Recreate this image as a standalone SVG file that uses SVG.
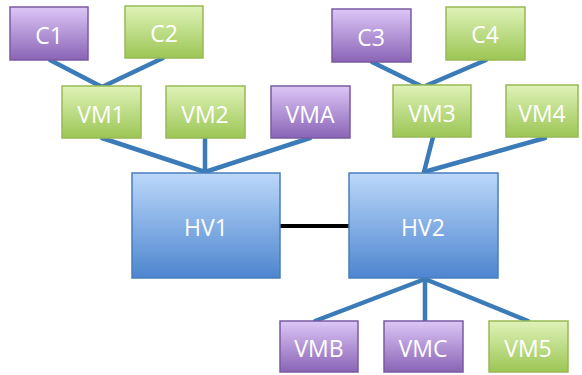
<svg xmlns="http://www.w3.org/2000/svg" width="582" height="375" viewBox="0 0 582 375">
<style>
.g{fill:url(#gg);stroke:#98b954;stroke-width:1.5}
.p{fill:url(#gp);stroke:#7a5ba3;stroke-width:1.5}
.b{fill:url(#gb);stroke:#4a7ebb;stroke-width:1.5}
text{font-family:"Open Sans","Noto Sans","Liberation Sans",sans-serif;fill:#ffffff;text-anchor:middle;dominant-baseline:central}
.s{font-size:23px}
.l{font-size:23px}
.c{stroke:#3b7bb8;stroke-width:4.5;fill:none;stroke-linecap:round}
</style>
<defs>
<linearGradient id="gg" x1="0" y1="0" x2="0" y2="1"><stop offset="0" stop-color="#dff2b8"/><stop offset="1" stop-color="#9cc655"/></linearGradient>
<linearGradient id="gp" x1="0" y1="0" x2="0" y2="1"><stop offset="0" stop-color="#dcc6f6"/><stop offset="1" stop-color="#8a64b6"/></linearGradient>
<linearGradient id="gb" x1="0" y1="0" x2="0" y2="1"><stop offset="0" stop-color="#bcd8fa"/><stop offset="1" stop-color="#4d85cf"/></linearGradient>
</defs>
<g id="connectors">
<line class="c" x1="50" y1="60" x2="102" y2="87"/>
<line class="c" x1="163" y1="58" x2="102" y2="87"/>
<line class="c" x1="372" y1="62" x2="423" y2="87"/>
<line class="c" x1="486" y1="60" x2="423" y2="87"/>
<line class="c" x1="102" y1="138" x2="205" y2="172"/>
<line class="c" x1="205" y1="138" x2="205" y2="172"/>
<line class="c" x1="310" y1="138" x2="205" y2="172"/>
<line class="c" x1="433" y1="137" x2="424" y2="172"/>
<line class="c" x1="545" y1="138" x2="424" y2="172"/>
<line class="c" x1="425" y1="279" x2="315" y2="321"/>
<line class="c" x1="425" y1="279" x2="425" y2="321"/>
<line class="c" x1="425" y1="279" x2="528" y2="321"/>
<line x1="280" y1="226" x2="349" y2="226" stroke="#000" stroke-width="4"/>
</g>
<g id="C1"><rect class="p" x="10" y="7" width="78" height="53"/><text class="s" x="49" y="35">C1</text></g>
<g id="C2"><rect class="g" x="125" y="6" width="78" height="52"/><text class="s" x="164" y="33">C2</text></g>
<g id="C3"><rect class="p" x="332" y="9" width="79" height="53"/><text class="s" x="371" y="37">C3</text></g>
<g id="C4"><rect class="g" x="446" y="7" width="79" height="53"/><text class="s" x="485" y="34">C4</text></g>
<g id="VM1"><rect class="g" x="62" y="86" width="79" height="52"/><text class="s" x="101" y="114">VM1</text></g>
<g id="VM2"><rect class="g" x="166" y="86" width="79" height="52"/><text class="s" x="205" y="114">VM2</text></g>
<g id="VMA"><rect class="p" x="271" y="86" width="79" height="52"/><text class="s" x="310" y="114">VMA</text></g>
<g id="VM3"><rect class="g" x="393" y="85" width="78" height="52"/><text class="s" x="432" y="113">VM3</text></g>
<g id="VM4"><rect class="g" x="506" y="85" width="72" height="52"/><text class="s" x="542" y="113">VM4</text></g>
<g id="HV1"><rect class="b" x="132" y="173" width="148" height="105"/><text class="l" x="206" y="227">HV1</text></g>
<g id="HV2"><rect class="b" x="349" y="173" width="149" height="105"/><text class="l" x="423" y="227">HV2</text></g>
<g id="VMB"><rect class="p" x="280" y="321" width="78" height="51"/><text class="s" x="319" y="348">VMB</text></g>
<g id="VMC"><rect class="p" x="384" y="321" width="79" height="51"/><text class="s" x="423" y="348">VMC</text></g>
<g id="VM5"><rect class="g" x="489" y="321" width="79" height="51"/><text class="s" x="528" y="348">VM5</text></g>
</svg>
